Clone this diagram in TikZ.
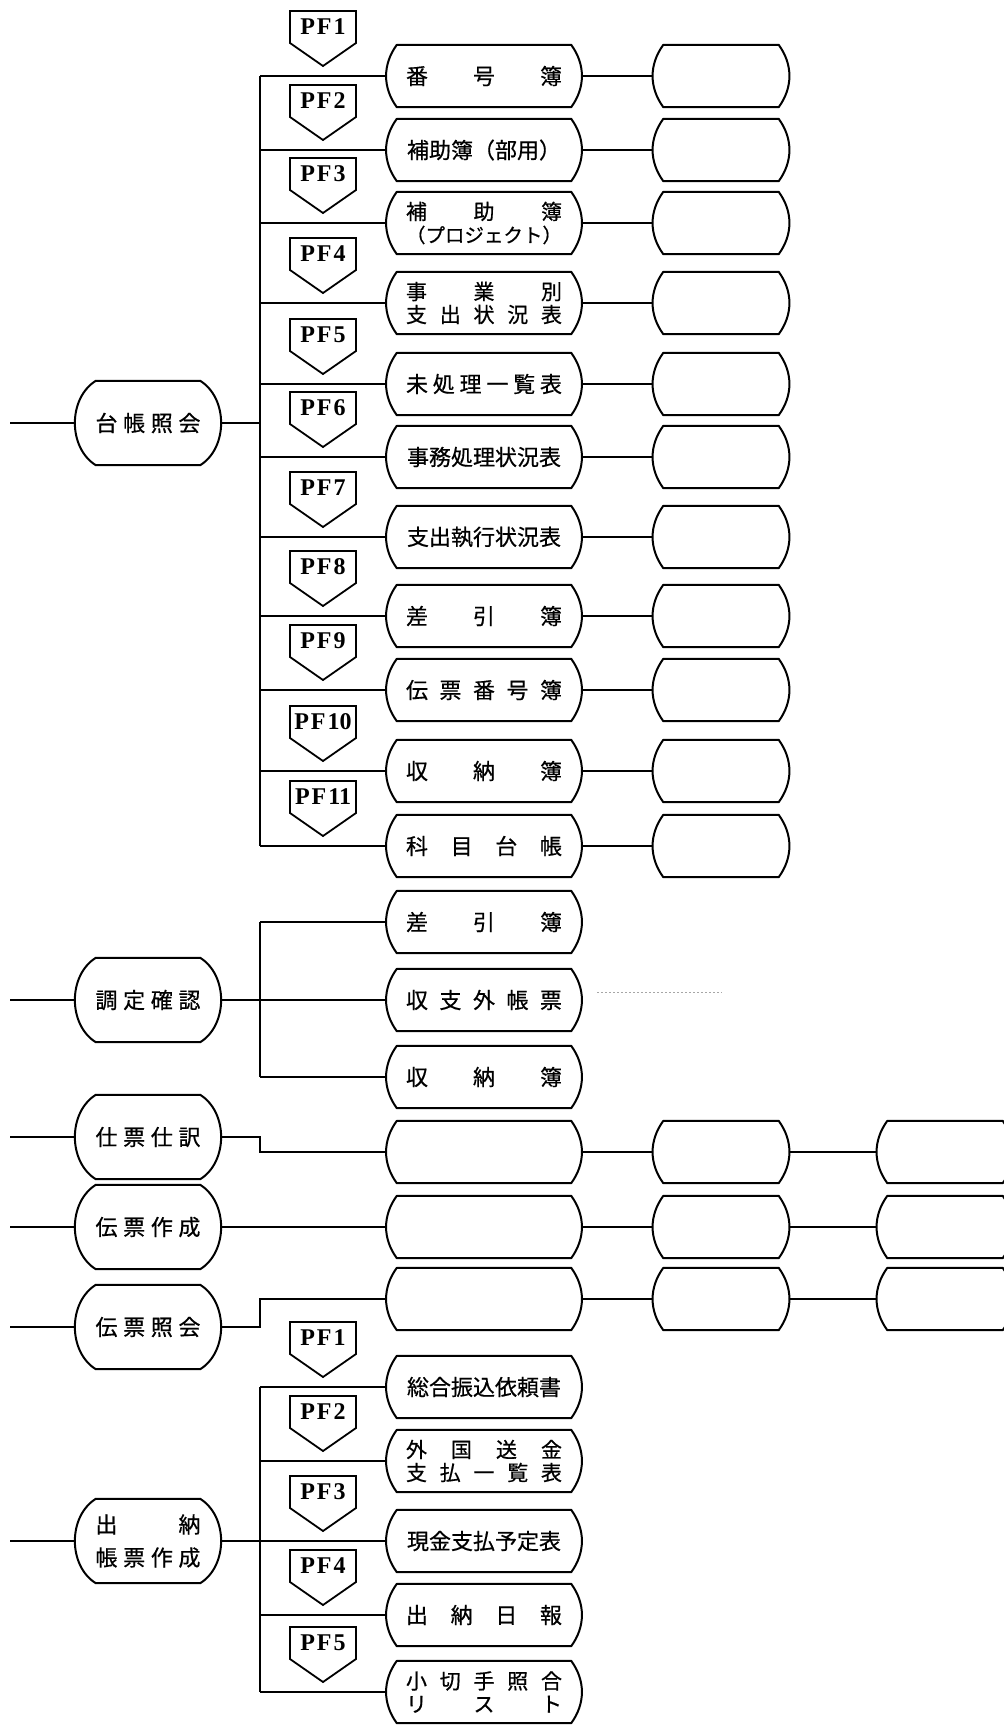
\documentclass[tikz,border=0pt]{standalone}
\usepackage{fontspec}
\setmainfont{Liberation Serif}
\newfontfamily\jp{Noto Sans CJK JP}[FakeBold=0.6]
\usetikzlibrary{calc}
\tikzset{
  boxline/.style={line width=2pt, line join=round, line cap=round},
  conn/.style={line width=1.4pt},
  dotline/.style={line width=0.8pt, gray!70, dash pattern=on 2pt off 2pt},
  pfline/.style={line width=1.8pt, line join=miter},
  jbox/.style={inner sep=0pt, minimum width=194pt, minimum height=62pt, font=\jp\fontsize{22pt}{24pt}\selectfont, align=center},
  jboxtwo/.style={jbox, font=\jp\fontsize{21pt}{23pt}\selectfont},
  ebox/.style={inner sep=0pt, minimum width=135pt, minimum height=62pt},
  lbox/.style={inner sep=0pt, minimum width=148pt, minimum height=84pt, font=\jp\fontsize{22pt}{33pt}\selectfont, align=center},
  pftext/.style={inner sep=0pt, font=\bfseries\fontsize{24pt}{25pt}\selectfont},
}
\newcommand\spr[2]{\makebox[#1][s]{#2}}
\newcommand\obox[3]{\draw[boxline] ([xshift=#2]#1.north west) -- ([xshift=-#2]#1.north east) to[bend left=#3] ([xshift=-#2]#1.south east) -- ([xshift=#2]#1.south west) to[bend left=#3] ([xshift=#2]#1.north west);}
\newcommand\pfshape[1]{\draw[pfline] ([shift={(-33,16)}]#1.center) -- ([shift={(33,16)}]#1.center) -- ([shift={(33,-16)}]#1.center) -- ([shift={(0,-39)}]#1.center) -- ([shift={(-33,-16)}]#1.center) -- cycle;}
\newcommand\pflab[1]{P\kern2pt F\kern2pt #1}
\begin{document}
\begin{tikzpicture}[x=1pt,y=1pt]
\useasboundingbox (0,0) rectangle (1004,-1725);
\clip (0,0) rectangle (1004,-1725);
\fill[white] (0,0) rectangle (1004,-1725);
\coordinate (bus) at (260,0);

% ---------- group 1 ----------
\node[lbox] (ledger) at (148,-423) {\spr{105pt}{台\hfill 帳\hfill 照\hfill 会}};
\obox{ledger}{22pt}{58}
\coordinate (in1) at (10,-423);
\draw[conn] (in1) -- (ledger.west);
\draw[conn] (ledger.east) -- (ledger.east -| bus);

\node[jbox] (a1) at (484,-76) {\spr{156pt}{番\hfill 号\hfill 簿}};
\node[jbox] (a2) at (484,-150) {補助簿（部用）};
\node[jboxtwo] (a3) at (484,-223) {\spr{156pt}{補\hfill 助\hfill 簿}\\{\fontsize{19.5pt}{23pt}\selectfont （プロジェクト）}};
\node[jboxtwo] (a4) at (484,-303) {\spr{156pt}{事\hfill 業\hfill 別}\\\spr{156pt}{支\hfill 出\hfill 状\hfill 況\hfill 表}};
\node[jbox] (a5) at (484,-384) {\spr{156pt}{未\hfill 処\hfill 理\hfill 一\hfill 覧\hfill 表}};
\node[jbox] (a6) at (484,-457) {事務処理状況表};
\node[jbox] (a7) at (484,-537) {支出執行状況表};
\node[jbox] (a8) at (484,-616) {\spr{156pt}{差\hfill 引\hfill 簿}};
\node[jbox] (a9) at (484,-690) {\spr{156pt}{伝\hfill 票\hfill 番\hfill 号\hfill 簿}};
\node[jbox] (a10) at (484,-771) {\spr{156pt}{収\hfill 納\hfill 簿}};
\node[jbox] (a11) at (484,-846) {\spr{156pt}{科\hfill 目\hfill 台\hfill 帳}};
\draw[conn] (bus |- a1.west) -- (bus |- a11.west);
\foreach \i/\y in {1/76,2/150,3/223,4/303,5/384,6/457,7/537,8/616,9/690,10/771,11/846}{
  \obox{a\i}{10pt}{36}
  \node[ebox] (c\i) at (721,-\y) {};
  \obox{c\i}{10pt}{36}
  \draw[conn] (bus |- a\i.west) -- (a\i.west);
  \draw[conn] (a\i.east) -- (c\i.west);
  \node[pftext] (pf\i) at (323,{-(\y-49)}) {\pflab{\i}};
  \pfshape{pf\i}
}

% ---------- group 2 ----------
\node[lbox] (chotei) at (148,-1000) {\spr{105pt}{調\hfill 定\hfill 確\hfill 認}};
\obox{chotei}{22pt}{58}
\coordinate (in2) at (10,-1000);
\draw[conn] (in2) -- (chotei.west);
\draw[conn] (chotei.east) -- (chotei.east -| bus);
\node[jbox] (s1) at (484,-922) {\spr{156pt}{差\hfill 引\hfill 簿}};
\node[jbox] (s2) at (484,-1000) {\spr{156pt}{収\hfill 支\hfill 外\hfill 帳\hfill 票}};
\node[jbox] (s3) at (484,-1077) {\spr{156pt}{収\hfill 納\hfill 簿}};
\foreach \i in {1,2,3}{
  \obox{s\i}{10pt}{36}
  \draw[conn] (bus |- s\i.west) -- (s\i.west);
}
\draw[conn] (bus |- s1.west) -- (bus |- s3.west);
\coordinate (d1) at (597,-992);
\coordinate (d2) at (722,-992);
\draw[dotline] (d1) -- (d2);

% ---------- groups 3-5 ----------
\node[lbox] (shiwake) at (148,-1137) {\spr{105pt}{仕\hfill 票\hfill 仕\hfill 訳}};
\node[lbox] (sakusei) at (148,-1227) {\spr{105pt}{伝\hfill 票\hfill 作\hfill 成}};
\node[lbox] (shokai) at (148,-1327) {\spr{105pt}{伝\hfill 票\hfill 照\hfill 会}};
\foreach \n/\y in {shiwake/1137,sakusei/1227,shokai/1327}{
  \obox{\n}{22pt}{58}
  \coordinate (in\n) at (10,-\y);
  \draw[conn] (in\n) -- (\n.west);
}
\foreach \i/\y in {1/1152,2/1227,3/1299}{
  \node[jbox] (t\i) at (484,-\y) {};
  \node[ebox] (u\i) at (721,-\y) {};
  \node[ebox] (v\i) at (945,-\y) {};
  \obox{t\i}{10pt}{36}
  \obox{u\i}{10pt}{36}
  \obox{v\i}{10pt}{36}
  \draw[conn] (t\i.east) -- (u\i.west);
  \draw[conn] (u\i.east) -- (v\i.west);
}
\draw[conn] (shiwake.east) -- (shiwake.east -| bus) |- (t1.west);
\draw[conn] (sakusei.east) -- (t2.west);
\draw[conn] (shokai.east) -- (shokai.east -| bus) |- (t3.west);

% ---------- group 6 ----------
\node[lbox] (suitou) at (148,-1541) {\spr{105pt}{出\hfill 納}\\\spr{105pt}{帳\hfill 票\hfill 作\hfill 成}};
\obox{suitou}{22pt}{58}
\coordinate (in6) at (10,-1541);
\draw[conn] (in6) -- (suitou.west);
\draw[conn] (suitou.east) -- (suitou.east -| bus);
\node[jbox] (w1) at (484,-1387) {総合振込依頼書};
\node[jboxtwo] (w2) at (484,-1461) {\spr{156pt}{外\hfill 国\hfill 送\hfill 金}\\\spr{156pt}{支\hfill 払\hfill 一\hfill 覧\hfill 表}};
\node[jbox] (w3) at (484,-1541) {現金支払予定表};
\node[jbox] (w4) at (484,-1615) {\spr{156pt}{出\hfill 納\hfill 日\hfill 報}};
\node[jboxtwo] (w5) at (484,-1692) {\spr{156pt}{小\hfill 切\hfill 手\hfill 照\hfill 合}\\\spr{156pt}{リ\hfill ス\hfill ト}};
\draw[conn] (bus |- w1.west) -- (bus |- w5.west);
\foreach \i/\y in {1/1387,2/1461,3/1541,4/1615,5/1692}{
  \obox{w\i}{10pt}{36}
  \draw[conn] (bus |- w\i.west) -- (w\i.west);
  \node[pftext] (q\i) at (323,{-(\y-49)}) {\pflab{\i}};
  \pfshape{q\i}
}
\end{tikzpicture}
\end{document}
